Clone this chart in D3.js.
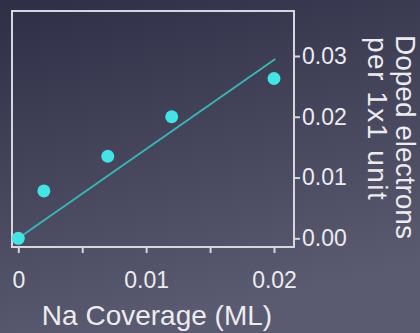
<!DOCTYPE html>
<html>
<head>
<meta charset="utf-8">
<script src="https://cdn.jsdelivr.net/npm/d3@7"></script>
<style>
  html, body { margin: 0; padding: 0; background: #3c3c52; }
  svg { display: block; }
  text { font-family: "Liberation Sans", Arial, Helvetica, sans-serif; fill: #ececf0; }
</style>
</head>
<body>
<div id="chart"></div>
<script>
// measured points
var coverage = [0, 0.002, 0.007, 0.012, 0.02];
var electrons = [0, 0.0078, 0.0135, 0.0200, 0.0263];

// linear fit drawn in the figure (end points)
var fitX = [0, 0.0201];
var fitY = [0, 0.0295];

var xTicks = [0, 0.005, 0.01, 0.015, 0.02];
var xTickLabels = ["0", "", "0.01", "", "0.02"];
var yTicks = [0, 0.01, 0.02, 0.03];
var yTickLabels = ["0.00", "0.01", "0.02", "0.03"];

var W = 420, H = 333;

var svg = d3.select("#chart").append("svg")
    .attr("width", W)
    .attr("height", H);

// background gradient
var grad = svg.append("defs").append("linearGradient")
    .attr("id", "bg")
    .attr("x1", 0).attr("y1", 0).attr("x2", 0.3).attr("y2", 1);
grad.append("stop").attr("offset", "0%").attr("stop-color", "#2e2e46");
grad.append("stop").attr("offset", "100%").attr("stop-color", "#5a5a70");
svg.append("rect").attr("width", W).attr("height", H).attr("fill", "url(#bg)");

var x = d3.scaleLinear().domain([0, 0.02]).range([18.3, 274]);
var y = d3.scaleLinear().domain([0, 0.03]).range([238.3, 56]);

var frame = { left: 12, top: 11, right: 294, bottom: 247 };

// plot frame
svg.append("rect")
    .attr("x", frame.left)
    .attr("y", frame.top)
    .attr("width", frame.right - frame.left)
    .attr("height", frame.bottom - frame.top)
    .attr("fill", "none")
    .attr("stroke", "#d6d6de")
    .attr("stroke-width", 2);

// bottom axis
var xAxis = d3.axisBottom(x)
    .tickValues(xTicks)
    .tickSize(6)
    .tickPadding(14)
    .tickFormat(function(d, i) { return xTickLabels[i]; });

var gx = svg.append("g")
    .attr("transform", "translate(0," + frame.bottom + ")")
    .call(xAxis);
gx.select(".domain").remove();
gx.selectAll(".tick line").attr("stroke", "#d6d6de").attr("stroke-width", 2);
gx.selectAll(".tick text")
    .attr("fill", "#ececf0")
    .style("font-size", "23px")
    .attr("dy", "0.9em");

// right axis
var yAxis = d3.axisRight(y)
    .tickValues(yTicks)
    .tickSize(6)
    .tickPadding(2)
    .tickFormat(function(d, i) { return yTickLabels[i]; });

var gy = svg.append("g")
    .attr("transform", "translate(" + frame.right + ",0)")
    .call(yAxis);
gy.select(".domain").remove();
gy.selectAll(".tick line").attr("stroke", "#d6d6de").attr("stroke-width", 2);
gy.selectAll(".tick text")
    .attr("fill", "#ececf0")
    .style("font-size", "23px");

// fit line
var line = d3.line()
    .x(function(d) { return x(d[0]); })
    .y(function(d) { return y(d[1]); });

svg.append("path")
    .datum(d3.zip(fitX, fitY))
    .attr("d", line)
    .attr("fill", "none")
    .attr("stroke", "#3bb4b6")
    .attr("stroke-width", 2);

// points
svg.selectAll("circle.pt")
    .data(d3.zip(coverage, electrons))
    .enter()
    .append("circle")
    .attr("class", "pt")
    .attr("cx", function(d) { return x(d[0]); })
    .attr("cy", function(d) { return y(d[1]); })
    .attr("r", 6.5)
    .attr("fill", "#44e4e4");

// axis titles
svg.append("text")
    .attr("x", 157)
    .attr("y", 325)
    .attr("text-anchor", "middle")
    .style("font-size", "28px")
    .text("Na Coverage (ML)");

var ytitle = svg.append("text")
    .attr("transform", "translate(396,35) rotate(90)")
    .attr("text-anchor", "start")
    .style("font-size", "28px");
ytitle.append("tspan").attr("x", 0).attr("dy", 0).text("Doped electrons");
ytitle.append("tspan").attr("x", 2).attr("dy", 28)
    .style("letter-spacing", "1.5px")
    .text("per 1x1 unit");
</script>
</body>
</html>
